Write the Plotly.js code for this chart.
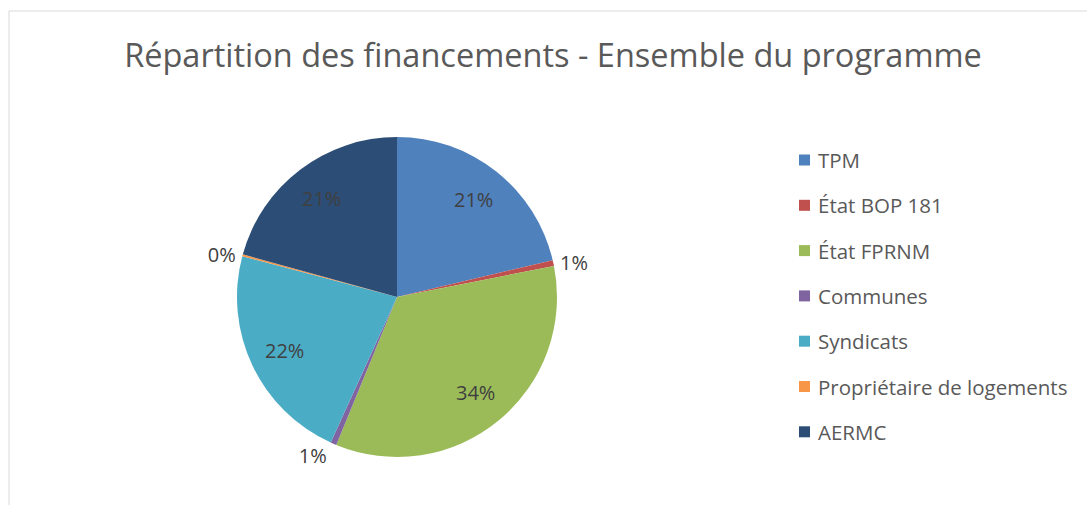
<!DOCTYPE html>
<html><head><meta charset="utf-8">
<script src="https://cdn.plot.ly/plotly-3.0.1.min.js"></script>
<style>html,body{margin:0;padding:0;background:#fff}#chart{width:1087px;height:505px}</style>
</head><body><div id="chart"></div>
<script>
const labels = ["TPM", "État BOP 181", "État FPRNM", "Communes", "Syndicats", "Propriétaire de logements", "AERMC"];
const values = [21.3, 0.6, 34.3, 0.6, 22.3, 0.2, 20.7];
const colors = ["#4F81BD", "#C0504D", "#9BBB59", "#8064A2", "#4BACC6", "#F79646", "#2C4D75"];
const outsideLabel = [false, true, false, true, false, true, false];

const W = 1087, H = 505;
const px = x => x / W, py = y => 1 - y / H;
const FONT = "Open Sans, sans-serif";

// pie geometry (pixels)
const CX = 397, CY = 297, R = 160;

const shapes = [
  {type: "line", xref: "paper", yref: "paper", x0: px(9), x1: px(1087), y0: py(11), y1: py(11), line: {color: "#d9d9d9", width: 1}},
  {type: "line", xref: "paper", yref: "paper", x0: px(9), x1: px(9), y0: py(11), y1: py(505), line: {color: "#d9d9d9", width: 1}}
];
const annotations = [];
labels.forEach((lab, i) => {
  const yc = 160 + i * 45.3;
  shapes.push({type: "rect", xref: "paper", yref: "paper", x0: px(799), x1: px(810), y0: py(yc - 5.5), y1: py(yc + 5.5), fillcolor: colors[i], line: {width: 0}});
  annotations.push({xref: "paper", yref: "paper", x: px(816), y: py(yc), xanchor: "left", yanchor: "middle", showarrow: false, text: lab, font: {family: FONT, size: 20.5, color: "#595959"}});
});

// inside percentage labels placed at ~0.775 R along each slice's mid-angle (computed from values)
const total = values.reduce((a, b) => a + b, 0);
let cum = 0;
values.forEach((v, i) => {
  const mid = (cum + v / 2) / total * 2 * Math.PI;
  cum += v;
  if (outsideLabel[i]) return;
  const r = 0.775 * R;
  const x = CX + r * Math.sin(mid), y = CY - r * Math.cos(mid);
  annotations.push({xref: "paper", yref: "paper", x: px(x), y: py(y), xanchor: "center", yanchor: "middle", showarrow: false,
    text: Math.round(v / total * 100) + "%", font: {family: FONT, size: 20, color: "#404040"}});
});

const trace = {
  type: "pie",
  labels: labels,
  values: values,
  sort: false,
  direction: "clockwise",
  rotation: 0,
  marker: {colors: colors, line: {color: "#ffffff", width: 0}},
  texttemplate: "%{percent:.0%}",
  textposition: outsideLabel.map(o => o ? "outside" : "none"),
  textfont: {family: FONT, size: 20, color: "#404040"},
  domain: {x: [px(CX - R), px(CX + R)], y: [py(CY + R), py(CY - R)]},
  showlegend: false,
  automargin: false,
  hoverinfo: "label+percent"
};

const layout = {
  width: W, height: H,
  margin: {l: 0, r: 0, t: 0, b: 0},
  paper_bgcolor: "#ffffff",
  title: {text: "Répartition des financements - Ensemble du programme", x: 553 / W, xanchor: "center", y: py(56), yanchor: "middle", font: {family: FONT, size: 32.5, color: "#595959"}},
  showlegend: false,
  shapes: shapes,
  annotations: annotations
};
Plotly.newPlot("chart", [trace], layout, {displayModeBar: false, staticPlot: true});
</script></body></html>
